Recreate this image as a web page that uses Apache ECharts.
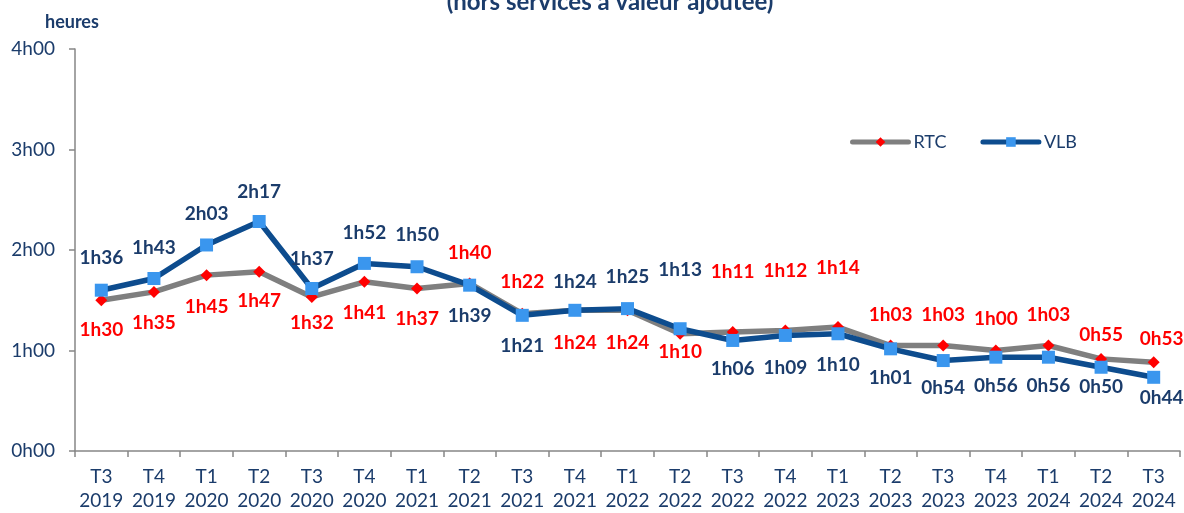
<!DOCTYPE html>
<html>
<head>
<meta charset="utf-8">
<script src="https://cdn.jsdelivr.net/npm/echarts@6/dist/echarts.min.js"></script>
<style>
  html, body { margin: 0; padding: 0; background: #fff; }
  #main { width: 1184px; height: 513px; }
</style>
</head>
<body>
<div id="main"></div>
<script>
// durées en minutes
var categories = ['T3\n2019', 'T4\n2019', 'T1\n2020', 'T2\n2020', 'T3\n2020', 'T4\n2020', 'T1\n2021',
	'T2\n2021', 'T3\n2021', 'T4\n2021', 'T1\n2022', 'T2\n2022', 'T3\n2022', 'T4\n2022', 'T1\n2023',
	'T2\n2023', 'T3\n2023', 'T4\n2023', 'T1\n2024', 'T2\n2024', 'T3\n2024'];
var rtcValues = [90, 95, 105, 107, 92, 101, 97, 100, 82, 84, 84, 70, 71, 72, 74, 63, 63, 60, 63, 55, 53];
var vlbValues = [96, 103, 123, 137, 97, 112, 110, 99, 81, 84, 85, 73, 66, 69, 70, 61, 54, 56, 56, 50, 44];
var yTicks = [0, 60, 120, 180, 240];

// placement des étiquettes (décalage vertical par rapport au point)
var rtcLabelDy = [30, 31, 32, 29, 26, 31, 30, -31, -32, 33, 33, 18, -60, -60, -59, -31, -31, -32, -31, -24, -23];
var vlbLabelDy = [-32, -31, -31, -30, -30, -31, -32, 31, 31, -28, -32, -59, 28, 32, 31, 29, 27, 29, 29, 20, 21];

var blueText = '#1B3C6B';
var font = 'Lato';

function fmt(m) {
	var h = Math.floor(m / 60);
	var mn = m % 60;
	return h + 'h' + (mn < 10 ? '0' : '') + mn;
}

function buildData(values, dys) {
	var out = [];
	for (var i = 0; i < values.length; i++) {
		out.push({
			value: values[i],
			label: {
				offset: [i == values.length - 1 ? 8 : 0, dys[i]]
			}
		});
	}
	return out;
}

var myChart = echarts.init(document.getElementById('main'));
var option = {
	backgroundColor: '#ffffff',
	textStyle: { fontFamily: font },
	title: [{
		text: '(hors services à valeur ajoutée)',
		left: 605,
		textAlign: 'center',
		top: -15,
		textStyle: { fontFamily: font, fontSize: 24, fontWeight: 'bold', color: blueText }
	}, {
		text: 'heures',
		left: 40,
		top: 8,
		textStyle: { fontFamily: font, fontSize: 18, fontWeight: 'bold', color: blueText }
	}],
	legend: {
		left: 845,
		top: 128,
		itemWidth: 56,
		itemHeight: 12,
		itemGap: 34,
		lineStyle: { width: 5, cap: 'round' },
		textStyle: { fontFamily: font, fontSize: 18, color: blueText },
		data: ['RTC', 'VLB']
	},
	grid: { left: 75, right: 4, top: 49, bottom: 62 },
	xAxis: {
		type: 'category',
		data: categories,
		boundaryGap: true,
		axisLine: { lineStyle: { color: '#868686', width: 1.5 } },
		axisTick: { show: true, length: 6, lineStyle: { color: '#868686', width: 1.5 } },
		axisLabel: {
			fontFamily: font, fontSize: 19, color: blueText, margin: 14, lineHeight: 24, interval: 0
		}
	},
	yAxis: {
		type: 'value',
		min: yTicks[0],
		max: yTicks[yTicks.length - 1],
		interval: yTicks[1] - yTicks[0],
		splitLine: { show: false },
		axisLine: { show: true, lineStyle: { color: '#868686', width: 1.5 } },
		axisTick: { show: true, length: 6, lineStyle: { color: '#868686', width: 1.5 } },
		axisLabel: {
			fontFamily: font, fontSize: 19, color: blueText, margin: 20,
			formatter: function (v) { return fmt(v); }
		}
	},
	series: [{
		name: 'RTC',
		type: 'line',
		data: buildData(rtcValues, rtcLabelDy),
		symbol: 'diamond',
		symbolSize: 12,
		itemStyle: { color: '#FF0000' },
		lineStyle: { color: '#7F7F7F', width: 5.5 },
		label: {
			show: true,
			position: 'inside',
			fontFamily: font, fontSize: 19, fontWeight: 'bold', color: '#FF0000',
			formatter: function (p) { return fmt(p.value); }
		},
		z: 2
	}, {
		name: 'VLB',
		type: 'line',
		data: buildData(vlbValues, vlbLabelDy),
		symbol: 'rect',
		symbolSize: 13,
		itemStyle: { color: '#3A96EE' },
		lineStyle: { color: '#0D4C8E', width: 5.5 },
		label: {
			show: true,
			position: 'inside',
			fontFamily: font, fontSize: 19, fontWeight: 'bold', color: blueText,
			formatter: function (p) { return fmt(p.value); }
		},
		z: 3
	}]
};
myChart.setOption(option, true);
</script>
</body>
</html>
